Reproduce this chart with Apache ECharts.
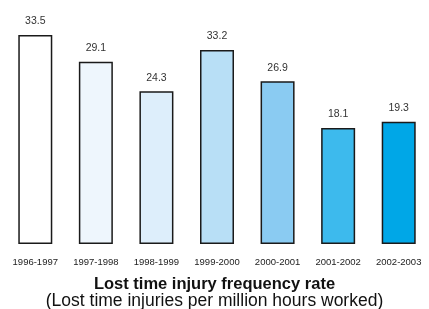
<!DOCTYPE html>
<html>
<head>
<meta charset="utf-8">
<script src="https://cdn.jsdelivr.net/npm/echarts@6/dist/echarts.min.js"></script>
<style>html,body{margin:0;padding:0;background:#fff}#main{width:429px;height:309px}</style>
</head>
<body>
<div id="main"></div>
<script>
var years = ['1996-1997','1997-1998','1998-1999','1999-2000','2000-2001','2001-2002','2002-2003']
// printed rates, and bar heights as drawn in the source (bars 4 and 5 are drawn short)
var rates = [33.5, 29.1, 24.3, 33.2, 26.9, 18.1, 19.3]
var drawn = [33.5, 29.2, 24.5, 31.1, 26.1, 18.6, 19.6]
var fills = ['#ffffff','#eef6fd','#ddeefb','#b8dff6','#8acbf2','#3dbaed','#00a7e7']

var myChart = echarts.init(document.getElementById('main'))

var option = {
  animation: false,
  title: {
    text: 'Lost time injury frequency rate',
    subtext: '(Lost time injuries per million hours worked)',
    left: 'center', top: 276, itemGap: 0, padding: 0,
    textStyle: {fontFamily: 'Liberation Sans', fontWeight: 'bold', fontSize: 16.5, lineHeight: 16, color: '#111'},
    subtextStyle: {fontFamily: 'Liberation Sans', fontSize: 17.5, lineHeight: 16, color: '#111'}
  },
  grid: {left: 5, right: -7, top: 35, bottom: 65},
  xAxis: {
    type: 'category', data: years,
    axisLine: {show: false}, axisTick: {show: false},
    axisLabel: {fontFamily: 'Liberation Sans', fontSize: 9.5, color: '#222', margin: 13, interval: 0}
  },
  yAxis: {type: 'value', min: 0, max: 33.5, show: false, splitLine: {show: false}},
  series: [{
    type: 'bar', barWidth: 34,
    data: drawn.map((v, i) => ({value: v, itemStyle: {color: fills[i]}})),
    itemStyle: {borderColor: '#1a1a1a', borderWidth: 1.5},
    label: {
      show: true, position: 'top', distance: 8,
      fontFamily: 'Liberation Sans', fontSize: 10.5, color: '#333',
      formatter: p => rates[p.dataIndex].toFixed(1)
    }
  }]
}

option && myChart.setOption(option)
</script>
</body>
</html>
